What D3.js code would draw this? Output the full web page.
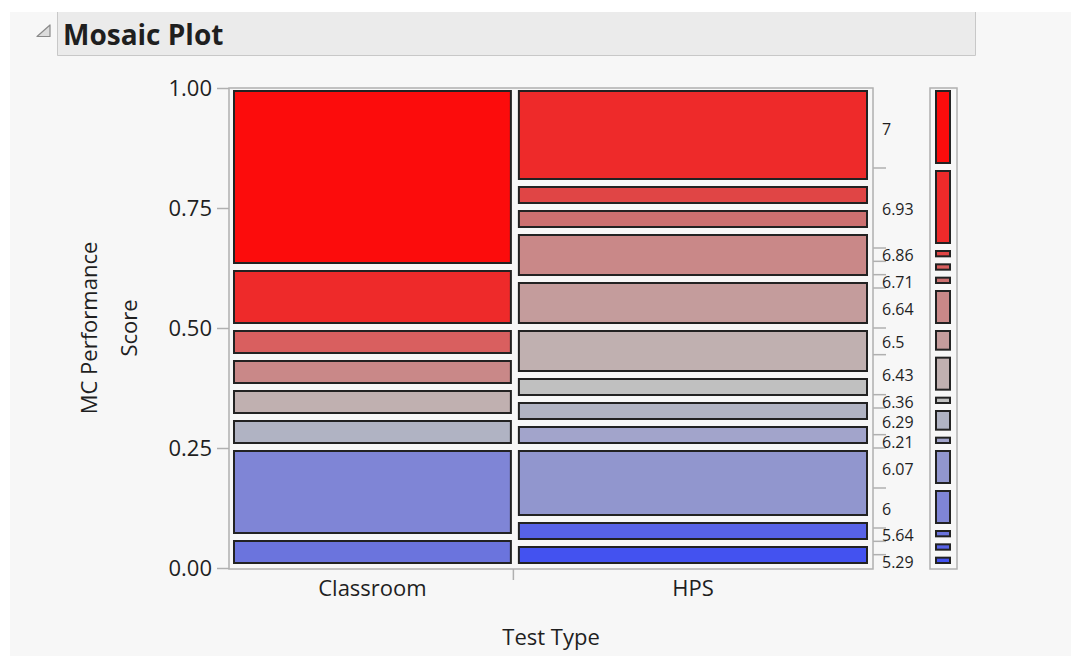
<!DOCTYPE html>
<html>
<head>
<meta charset="utf-8">
<script src="https://cdn.jsdelivr.net/npm/d3@7"></script>
<style>
  html, body { margin: 0; padding: 0; background: #ffffff; }
  svg { display: block; }
  text { font-family: "Open Sans", "Noto Sans", sans-serif; fill: #1f1f1f; }
</style>
</head>
<body>
<svg id="chart" width="1071" height="656"></svg>
<script>
// ---- data ----
const testTypes = ["Classroom", "HPS"];
const levels = ["7", "6.93", "6.86", "6.79", "6.71", "6.64", "6.5", "6.43", "6.36", "6.29", "6.21", "6.07", "6", "5.64", "5.5", "5.29"];
const classroomCounts = [6, 2, 0, 1, 0, 1, 0, 1, 0, 1, 0, 0, 3, 1, 0, 0];
const hpsCounts       = [0, 4, 1, 0, 1, 2, 2, 2, 1, 1, 1, 3, 0, 0, 1, 1];
const levelColors = ["#fc0c0c", "#ee2a2a", "#e04545", "#d95f5f", "#cc7070", "#c98888", "#c49c9c", "#c0b0b0", "#c0c0c0", "#b0b3c3", "#a2a4cb", "#9196ce", "#7f85d6", "#6b74dd", "#5762e7", "#4352f0"];
const yTickValues = [0, 0.25, 0.5, 0.75, 1];
const chartTitle = "Mosaic Plot";
const xTitle = "Test Type";
const yTitleLines = ["MC Performance", "Score"];

// ---- setup ----
const svg = d3.select("#chart");
const W = 1071, H = 656;
svg.append("rect").attr("x", 10).attr("y", 12).attr("width", W - 10).attr("height", H - 12).attr("fill", "#f7f7f7");

// header bar
svg.append("rect").attr("x", 57).attr("y", 12).attr("width", 918).attr("height", 44).attr("fill", "#ebebeb");
svg.append("path").attr("d", "M57.5,12 V55.5 H975.5 V12").attr("fill", "none").attr("stroke", "#c8c8c8").attr("stroke-width", 1);
svg.append("path").attr("d", "M50,25 L50,36.5 L37,36.5 Z").attr("fill", "#dcdcdc").attr("stroke", "#8a8a8a").attr("stroke-width", 1.2).attr("stroke-linejoin", "round");
svg.append("text").attr("x", 63).attr("y", 45).attr("font-size", 28).attr("font-weight", "bold").text(chartTitle);

const plotL = 229, plotR = 873, plotT = 88, plotB = 568;
const colCounts = [classroomCounts, hpsCounts];
const colTotals = colCounts.map(c => d3.sum(c));
const grandTotal = d3.sum(colTotals);
const marginal = levels.map((_, i) => d3.sum(colCounts, c => c[i]));

const x = d3.scaleLinear().domain([0, grandTotal]).range([230, 871]);
const y = d3.scaleLinear().domain([0, 1]).range([plotB, plotT]);
const color = d3.scaleOrdinal().domain(levels).range(levelColors);

// frame
const frameColor = "#b0b0b0";
svg.append("rect").attr("x", plotL).attr("y", plotT).attr("width", plotR - plotL).attr("height", plotB + 1 - plotT)
  .attr("fill", "none").attr("stroke", frameColor).attr("stroke-width", 1.5);

// mosaic cells
function cellsFor(counts, total) {
  const out = [];
  let cum = 0;
  counts.forEach((n, i) => {
    if (n > 0) {
      out.push({ level: levels[i], top: 1 - cum / total, bottom: 1 - (cum + n) / total });
    }
    cum += n;
  });
  return out;
}
let cumCol = 0;
const colBounds = [];
colCounts.forEach((counts, ci) => {
  const c0 = cumCol, c1 = cumCol + colTotals[ci];
  cumCol = c1;
  colBounds.push([c0, c1]);
  const left = x(c0) + 3, right = x(c1) - 3;
  const g = svg.append("g");
  g.selectAll("rect").data(cellsFor(counts, colTotals[ci])).join("rect")
    .attr("x", left + 1)
    .attr("y", d => y(d.top) + 3)
    .attr("width", right - left - 2)
    .attr("height", d => (y(d.bottom) - 4) - (y(d.top) + 2) - 2)
    .attr("fill", d => color(d.level))
    .attr("stroke", "#222")
    .attr("stroke-width", 2);
});

// left axis
const yAxis = d3.axisLeft(y).tickValues(yTickValues).tickFormat(d3.format(".2f")).tickSize(12).tickPadding(5);
const gy = svg.append("g").attr("transform", `translate(${plotL},0)`).call(yAxis);
gy.select(".domain").remove();
gy.selectAll(".tick line").attr("stroke", frameColor).attr("stroke-width", 1.5);
gy.selectAll(".tick text").attr("font-size", 22).attr("font-family", "'Open Sans', sans-serif").attr("fill", "#1f1f1f");

// x categories
const xMid = colBounds.map(b => (x(b[0]) + x(b[1])) / 2);
svg.append("g").selectAll("text").data(testTypes).join("text")
  .attr("x", (d, i) => xMid[i]).attr("y", 596).attr("text-anchor", "middle").attr("font-size", 22).text(d => d);
// tick between columns
svg.append("g").selectAll("line").data(colBounds.slice(0, -1)).join("line")
  .attr("x1", d => x(d[1]) - 1.5).attr("x2", d => x(d[1]) - 1.5).attr("y1", plotB + 1).attr("y2", plotB + 12)
  .attr("stroke", frameColor).attr("stroke-width", 1.5);

// axis titles
svg.append("text").attr("x", (plotL + plotR) / 2).attr("y", 645).attr("text-anchor", "middle").attr("font-size", 22).text(xTitle);
const yc = (plotT + plotB) / 2;
svg.append("text").attr("transform", `translate(97,${yc}) rotate(-90)`).attr("text-anchor", "middle").attr("font-size", 22).text(yTitleLines[0]);
svg.append("text").attr("transform", `translate(137,${yc}) rotate(-90)`).attr("text-anchor", "middle").attr("font-size", 22).text(yTitleLines[1]);

// right axis: marginal level labels
const margCells = cellsFor(marginal, grandTotal);
const gr = svg.append("g");
gr.selectAll("line").data(margCells.slice(1)).join("line")
  .attr("x1", plotR).attr("x2", plotR + 13).attr("y1", d => y(d.top)).attr("y2", d => y(d.top))
  .attr("stroke", frameColor).attr("stroke-width", 1.5);
let lastShown = -1e9;
const shown = margCells.filter(d => {
  const cy = (y(d.top) + y(d.bottom)) / 2;
  if (cy - lastShown >= 16) { lastShown = cy; return true; }
  return false;
});
gr.selectAll("text").data(shown).join("text")
  .attr("x", 882).attr("y", d => (y(d.top) + y(d.bottom)) / 2 + 1).attr("dy", "0.35em")
  .attr("font-size", 16).text(d => d.level);

// marginal strip
const sL = 930, sR = 957;
svg.append("rect").attr("x", sL).attr("y", plotT).attr("width", sR - sL).attr("height", plotB + 1 - plotT)
  .attr("fill", "none").attr("stroke", frameColor).attr("stroke-width", 1.5);
svg.append("g").selectAll("rect").data(margCells).join("rect")
  .attr("x", 936).attr("y", d => y(d.top) + 3)
  .attr("width", 14)
  .attr("height", d => (y(d.bottom) - 4) - (y(d.top) + 2) - 2)
  .attr("fill", d => color(d.level))
  .attr("stroke", "#222").attr("stroke-width", 2);
</script>
</body>
</html>
